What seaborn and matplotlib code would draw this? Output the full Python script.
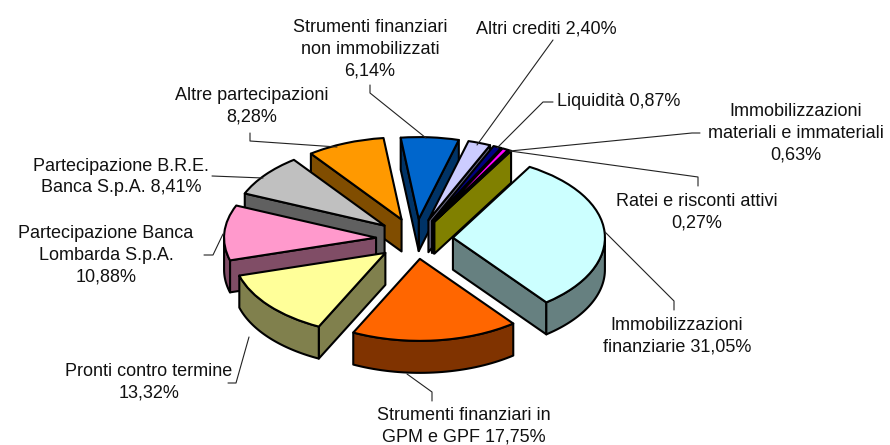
import numpy as np
import matplotlib
matplotlib.use('Agg')
import matplotlib.pyplot as plt
import seaborn as sns
from matplotlib.patches import Polygon

# slices, clockwise from the big one
labels = ['Immobilizzazioni\nfinanziarie 31,05%',
          'Strumenti finanziari in\nGPM e GPF 17,75%',
          'Pronti contro termine\n13,32%',
          'Partecipazione Banca\nLombarda S.p.A.\n10,88%',
          'Partecipazione B.R.E.\nBanca S.p.A. 8,41%',
          'Altre partecipazioni\n8,28%',
          'Strumenti finanziari\nnon immobilizzati\n6,14%',
          'Altri crediti 2,40%',
          'Liquidità 0,87%',
          'Immobilizzazioni\nmateriali e immateriali\n0,63%',
          'Ratei e risconti attivi\n0,27%']
values = [31.05, 17.75, 13.32, 10.88, 8.41, 8.28, 6.14, 2.40, 0.87, 0.63, 0.27]
colors = ['#CCFFFF', '#FF6600', '#FFFF99', '#FF99CC', '#C0C0C0', '#FF9900',
          '#0066CC', '#CCCCFF', '#000080', '#FF00FF', '#FFFF00']
explode_px = [37, 37, 40, 40, 40, 39, 37, 37, 37, 37, 37]

# label centres and leader lines, in pixels of the 890x445 picture
label_pos = [(677, 336), (464, 426), (149, 382), (106, 255), (121, 177), (252, 106),
             (370, 49), (546, 29), (619, 101), (796, 133), (697, 212)]
leaders = [[(674, 310), (674, 301), (605, 232)],
           [(432, 401), (432, 392), (407, 374)],
           [(228, 383), (236, 383), (249, 337)],
           [(204, 255), (213, 255), (223, 234)],
           [(212, 176), (263, 178)],
           [(250, 133), (250, 141), (337, 147)],
           [(370, 85), (370, 93), (426, 138)],
           [(553, 40), (477, 145)],
           [(553, 102), (543, 102), (497, 148)],
           [(700, 133), (692, 133), (510, 151)],
           [(698, 186), (698, 177), (510, 151)]]

# pie layout
cx, cy = 416, 239
rx, ry = 152, 82
depth = 32 / ry
LW = 1.5

sns.set_style('white')
plt.rcParams['font.family'] = ['Liberation Sans', 'DejaVu Sans']

fig = plt.figure(figsize=(8.9, 4.45), dpi=100)
ax = fig.add_axes([0, 0, 1, 1])

wedges, _ = ax.pie(values, explode=[e / rx for e in explode_px], colors=sns.color_palette(colors),
                   startangle=59.7, counterclock=False, radius=1,
                   wedgeprops={'edgecolor': 'black', 'linewidth': LW, 'joinstyle': 'round'})

ax.set_aspect('auto')
ax.set_xlim(-cx / rx, (890 - cx) / rx)
ax.set_ylim(-(445 - cy) / ry, cy / ry)


def px(x, y):
    return (x - cx) / rx, (cy - y) / ry


def wall(pts, color, z):
    pts = np.array(pts)
    low = pts[::-1] - [0, depth]
    ax.add_patch(Polygon(np.vstack([pts, low]), closed=True, facecolor=color, edgecolor='black',
                         linewidth=LW, joinstyle='round', zorder=z))


# paint back to front
order = sorted(wedges, key=lambda w: -np.sin(np.radians((w.theta1 + w.theta2) / 2)))
for rank, w in enumerate(order):
    z = 2 + rank * 2
    w.set_zorder(z + 1)
    side = tuple(c * 0.5 for c in w.get_facecolor()[:3])
    c = np.array(w.center)
    t1, t2 = w.theta1, w.theta2

    def rim(t):
        return c + [np.cos(np.radians(t)), np.sin(np.radians(t))]

    if np.cos(np.radians(t1)) > 0:
        wall([c, rim(t1)], side, z)
    if np.cos(np.radians(t2)) < 0:
        wall([rim(t2), c], side, z)
    # outer arc, only the part facing the viewer
    for k in (-1, 0):
        a = max(t1, 180 + 360 * k)
        b = min(t2, 360 + 360 * k)
        if b > a:
            wall([rim(t) for t in np.linspace(a, b, 40)], side, z)

for line in leaders:
    xs, ys = zip(*[px(*p) for p in line])
    ax.plot(xs, ys, color='#222222', linewidth=0.8, zorder=40)

for text, pos in zip(labels, label_pos):
    x, y = px(*pos)
    ax.text(x, y, text, ha='center', va='center', multialignment='center', fontsize=13,
            color='#111111', linespacing=1.38, zorder=50)

fig.savefig('out.png', dpi=100)
